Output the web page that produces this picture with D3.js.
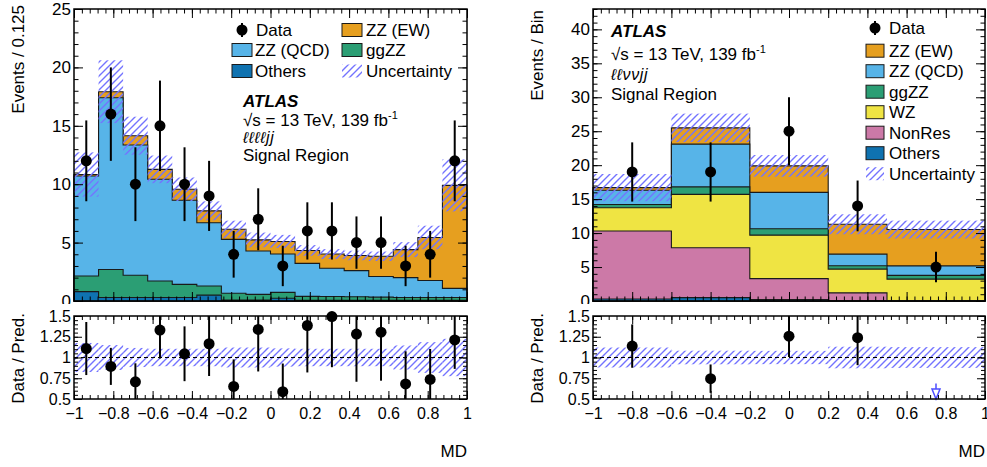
<!DOCTYPE html>
<html>
<head>
<meta charset="utf-8">
<script src="https://cdn.jsdelivr.net/npm/d3@7"></script>
<style>
  body { margin: 0; background: #fff; }
  svg { display: block; }
  text { font-family: "Liberation Sans", Arial, Helvetica, sans-serif; fill: #000; }
</style>
</head>
<body>
<svg id="chart" width="987" height="467"></svg>
<script>
// ---- ℓℓℓℓjj signal region: 16 bins in MD (width 0.125) ----
const edges4l = [-1, -0.875, -0.75, -0.625, -0.5, -0.375, -0.25, -0.125, 0,
                 0.125, 0.25, 0.375, 0.5, 0.625, 0.75, 0.875, 1];
const data4l    = [12, 16, 10, 15, 10, 9, 4, 7, 3, 6, 6, 5, 5, 3, 4, 12];
const dataErr4l = [3.46, 4.0, 3.16, 3.87, 3.16, 3.0, 2.0, 2.65, 1.73, 2.45, 2.45, 2.24, 2.24, 1.73, 2.0, 3.46];
const others4l  = [0.80, 0.30, 0.30, 0.30, 0.30, 0.50, 0.08, 0.08, 0.23, 0.05, 0.05, 0.05, 0.05, 0.05, 0.05, 0.05];
const ggzz4l    = [1.34, 2.40, 1.90, 1.41, 1.12, 0.78, 0.58, 0.49, 0.51, 0.35, 0.33, 0.31, 0.28, 0.25, 0.25, 0.25];
const zzQCD4l   = [8.56, 14.70, 11.16, 8.71, 7.20, 5.42, 4.62, 3.71, 3.28, 2.82, 2.42, 2.24, 1.77, 1.70, 1.45, 0.78];
const zzEW4l    = [0.13, 0.52, 0.79, 0.85, 0.95, 1.02, 0.86, 0.95, 1.08, 1.11, 1.22, 1.30, 1.73, 2.40, 3.69, 8.82];
const relUnc4l  = [0.175, 0.15, 0.115, 0.105, 0.105, 0.105, 0.12, 0.12, 0.11, 0.105, 0.105, 0.105, 0.105, 0.145, 0.185, 0.225];

// ---- ℓℓννjj signal region: 5 variable-width bins in MD ----
const edges2l2v = [-1, -0.6, -0.2, 0.2, 0.5, 1];
const dataX2l2v   = [-0.8, -0.4, 0, 0.35, 0.75];
const data2l2v    = [19, 19, 25, 14, 5];
const dataErr2l2v = [4.36, 4.36, 5.0, 3.74, 2.24];
const others2l2v  = [0.30, 0.50, 0.20, 0.05, 0.02];
const nonRes2l2v  = [10.00, 7.35, 3.10, 1.15, 0.03];
const wz2l2v      = [3.44, 7.85, 6.40, 3.50, 3.17];
const ggzz2l2v    = [0.46, 1.10, 0.95, 0.50, 0.55];
const zzQCD2l2v   = [2.10, 6.30, 5.35, 1.70, 1.40];
const zzEW2l2v    = [0.40, 2.40, 3.90, 4.40, 5.35];
const relUnc2l2v  = [0.12, 0.082, 0.08, 0.13, 0.125];

// ---- axis ticks ----
const xTicks = [-1, -0.8, -0.6, -0.4, -0.2, 0, 0.2, 0.4, 0.6, 0.8, 1];
const yTicks4l = [0, 5, 10, 15, 20, 25];
const yTicks2l2v = [0, 5, 10, 15, 20, 25, 30, 35, 40];
const ratioTicks = [0.5, 0.75, 1, 1.25, 1.5];

const colors = {
  others: "#0f72b0",
  nonRes: "#cc79a7",
  wz: "#efe443",
  ggzz: "#2b9e74",
  zzQCD: "#57b4e8",
  zzEW: "#e69f1f",
  hatch: "#7373ff"
};

const svg = d3.select("#chart");
const defs = svg.append("defs");
defs.append("pattern")
  .attr("id", "hatch")
  .attr("patternUnits", "userSpaceOnUse")
  .attr("width", 7).attr("height", 7)
  .append("path")
  .attr("d", "M-1,1 l2,-2 M0,7 l7,-7 M6,8 l2,-2")
  .attr("stroke", colors.hatch)
  .attr("stroke-width", 1.4)
  .attr("fill", "none");
// the upper pad ends just below its zero label
defs.append("clipPath").attr("id", "upperPad")
  .append("rect").attr("x", -2000).attr("y", -100).attr("width", 4000).attr("height", 404);

const fmtX = d => d === 0 ? "0" : String(d).replace("-", "\u2212");

function drawPanel(p) {
  const x = d3.scaleLinear([-1, 1], [p.x0, p.x1]);
  const y = d3.scaleLinear([0, p.yMax], [p.mainBottom, p.mainTop]);
  const r = d3.scaleLinear([0.5, 1.5], [p.ratioBottom, p.ratioTop]);
  const nb = p.edges.length - 1;
  const g = svg.append("g");

  // stacked backgrounds
  const keys = p.layers.map(l => l.key);
  const rows = d3.range(nb).map(i => {
    const o = {};
    p.layers.forEach(l => { o[l.key] = l.values[i]; });
    return o;
  });
  const stacked = d3.stack().keys(keys)(rows);
  const total = d3.range(nb).map(i => stacked[stacked.length - 1][i][1]);

  const area = d3.area()
    .x(d => x(d.x)).y0(y(0)).y1(d => y(d.top))
    .curve(d3.curveStepAfter);

  for (let k = stacked.length - 1; k >= 0; k--) {
    const pts = d3.range(nb).map(i => ({ x: p.edges[i], top: stacked[k][i][1] }));
    pts.push({ x: p.edges[nb], top: stacked[k][nb - 1][1] });
    g.append("path")
      .attr("d", area(pts))
      .attr("fill", p.layers[k].color)
      .attr("stroke", "#1a1a1a")
      .attr("stroke-width", 1.1);
  }

  // uncertainty band on the total prediction
  g.append("g").selectAll("rect").data(d3.range(nb)).join("rect")
    .attr("x", i => x(p.edges[i]))
    .attr("width", i => x(p.edges[i + 1]) - x(p.edges[i]))
    .attr("y", i => y(total[i] * (1 + p.relUnc[i])))
    .attr("height", i => y(total[i] * (1 - p.relUnc[i])) - y(total[i] * (1 + p.relUnc[i])))
    .attr("fill", "url(#hatch)");

  // data points
  const dg = g.append("g");
  p.data.forEach((v, i) => {
    const cx = x(p.dataX[i]);
    dg.append("line").attr("x1", cx).attr("x2", cx)
      .attr("y1", y(v - p.dataErr[i])).attr("y2", y(v + p.dataErr[i]))
      .attr("stroke", "#000").attr("stroke-width", 2);
    dg.append("circle").attr("cx", cx).attr("cy", y(v)).attr("r", 5.5).attr("fill", "#000");
  });

  // ratio panel: band, reference line, points
  g.append("g").selectAll("rect").data(d3.range(nb)).join("rect")
    .attr("x", i => x(p.edges[i]))
    .attr("width", i => x(p.edges[i + 1]) - x(p.edges[i]))
    .attr("y", i => r(Math.min(1.5, 1 + p.relUnc[i])))
    .attr("height", i => r(Math.max(0.5, 1 - p.relUnc[i])) - r(Math.min(1.5, 1 + p.relUnc[i])))
    .attr("fill", "url(#hatch)");
  g.append("line")
    .attr("x1", p.x0).attr("x2", p.x1).attr("y1", r(1)).attr("y2", r(1))
    .attr("stroke", "#000").attr("stroke-width", 1.2).attr("stroke-dasharray", "4,3");

  const rg = g.append("g");
  p.data.forEach((v, i) => {
    const cx = x(p.dataX[i]);
    const ratio = v / total[i];
    const err = p.dataErr[i] / total[i];
    if (ratio < 0.5) {
      // out of range below: open arrow at the lower edge
      const hi = ratio + err;
      rg.append("line").attr("x1", cx).attr("x2", cx)
        .attr("y1", r(hi)).attr("y2", r(0.5) - 10)
        .attr("stroke", "#4d4dff").attr("stroke-width", 1.5);
      rg.append("path")
        .attr("d", `M${cx - 4},${r(0.5) - 10} L${cx + 4},${r(0.5) - 10} L${cx},${r(0.5)} Z`)
        .attr("fill", "#fff").attr("stroke", "#4d4dff").attr("stroke-width", 1.5);
      return;
    }
    rg.append("line").attr("x1", cx).attr("x2", cx)
      .attr("y1", r(Math.max(0.5, ratio - err))).attr("y2", r(Math.min(1.5, ratio + err)))
      .attr("stroke", "#000").attr("stroke-width", 2);
    rg.append("circle").attr("cx", cx).attr("cy", r(ratio)).attr("r", 5.5).attr("fill", "#000");
  });

  // frames and inward ticks
  const noDomain = s => s.select(".domain").remove();
  const minorX = d3.range(-1, 1.0001, 0.04);
  const minorY = d3.range(0, p.yMax + 0.001, 1);
  const minorR = d3.range(0.5, 1.5001, 0.05);

  function ticks(axis, tx, ty, values, size, labels, fontSize, pad) {
    const a = axis.tickValues(values).tickSize(-size).tickPadding(pad || 3);
    if (!labels) a.tickFormat("");
    else a.tickFormat(labels);
    const ag = g.append("g").attr("transform", `translate(${tx},${ty})`).call(a).call(noDomain);
    ag.attr("font-family", null).attr("font-size", fontSize || 17);
    ag.selectAll("line").attr("stroke", "#000").attr("stroke-width", 1);
    return ag;
  }

  // main panel
  ticks(d3.axisLeft(y), p.x0, 0, p.yTicks, 9, d => d, 17, 3).attr("clip-path", "url(#upperPad)");
  ticks(d3.axisLeft(y), p.x0, 0, minorY, 4.5);
  ticks(d3.axisRight(y), p.x1, 0, p.yTicks, 9);
  ticks(d3.axisRight(y), p.x1, 0, minorY, 4.5);
  ticks(d3.axisTop(x), 0, p.mainTop, xTicks, 9);
  ticks(d3.axisTop(x), 0, p.mainTop, minorX, 4.5);
  ticks(d3.axisBottom(x), 0, p.mainBottom, xTicks, 9);
  ticks(d3.axisBottom(x), 0, p.mainBottom, minorX, 4.5);
  g.append("rect").attr("x", p.x0).attr("y", p.mainTop)
    .attr("width", p.x1 - p.x0).attr("height", p.mainBottom - p.mainTop)
    .attr("fill", "none").attr("stroke", "#000").attr("stroke-width", 1.5);

  // ratio panel
  ticks(d3.axisLeft(r), p.x0, 0, ratioTicks, 8, d => String(d), 16, 3);
  ticks(d3.axisLeft(r), p.x0, 0, minorR, 4);
  ticks(d3.axisRight(r), p.x1, 0, ratioTicks, 8);
  ticks(d3.axisRight(r), p.x1, 0, minorR, 4);
  ticks(d3.axisTop(x), 0, p.ratioTop, xTicks, 8);
  ticks(d3.axisTop(x), 0, p.ratioTop, minorX, 4);
  ticks(d3.axisBottom(x), 0, p.ratioBottom, xTicks, 8, fmtX, 16, 9);
  ticks(d3.axisBottom(x), 0, p.ratioBottom, minorX, 4);
  g.append("rect").attr("x", p.x0).attr("y", p.ratioTop)
    .attr("width", p.x1 - p.x0).attr("height", p.ratioBottom - p.ratioTop)
    .attr("fill", "none").attr("stroke", "#000").attr("stroke-width", 1.5);

  // axis titles
  g.append("text").attr("transform", `translate(${p.titleX},${p.yTitleTop}) rotate(-90)`)
    .attr("text-anchor", "end").attr("font-size", 17).text(p.yTitle);
  g.append("text").attr("transform", `translate(${p.titleX},${p.ratioTop - 3}) rotate(-90)`)
    .attr("text-anchor", "end").attr("font-size", 17).text("Data / Pred.");
  g.append("text").attr("x", p.x1).attr("y", 457)
    .attr("text-anchor", "end").attr("font-size", 17).text("MD");
}

function legendDataMarker(cx, cy) {
  svg.append("line").attr("x1", cx).attr("x2", cx).attr("y1", cy - 7).attr("y2", cy + 7)
    .attr("stroke", "#000").attr("stroke-width", 2);
  svg.append("circle").attr("cx", cx).attr("cy", cy).attr("r", 5.5).attr("fill", "#000");
}
function legendBox(x, cy, w, fill, label, tx) {
  svg.append("rect").attr("x", x).attr("y", cy - 6.5).attr("width", w).attr("height", 13)
    .attr("fill", fill).attr("stroke", fill === "url(#hatch)" ? "none" : "#1a1a1a").attr("stroke-width", 1);
  svg.append("text").attr("x", tx).attr("y", cy + 6).attr("font-size", 17).text(label);
}
function label(x, y, lines) {
  lines.forEach((ln, i) => {
    const t = svg.append("text").attr("x", x).attr("y", y[i]).attr("font-size", 17);
    if (ln === "ATLAS") t.attr("font-weight", "bold").attr("font-style", "italic").text(ln);
    else if (ln === "energy") {
      t.append("tspan").text("\u221As = 13 TeV, 139 fb");
      t.append("tspan").attr("font-size", 11).attr("dy", -7).text("-1");
    } else if (ln.startsWith("\u2113")) {
      t.attr("font-family", "'DejaVu Serif', 'Liberation Serif', serif")
        .attr("font-style", "italic").attr("font-size", 16)
        .attr("letter-spacing", 0.6).text(ln);
    }
    else t.text(ln);
  });
}

// left: ℓℓℓℓjj
drawPanel({
  x0: 74, x1: 467, mainTop: 9, mainBottom: 301, ratioTop: 316, ratioBottom: 399,
  yMax: 25, yTicks: yTicks4l, edges: edges4l,
  dataX: d3.range(edges4l.length - 1).map(i => (edges4l[i] + edges4l[i + 1]) / 2),
  data: data4l, dataErr: dataErr4l, relUnc: relUnc4l,
  layers: [
    { key: "others", values: others4l, color: colors.others },
    { key: "ggzz", values: ggzz4l, color: colors.ggzz },
    { key: "zzQCD", values: zzQCD4l, color: colors.zzQCD },
    { key: "zzEW", values: zzEW4l, color: colors.zzEW }
  ],
  yTitle: "Events / 0.125", titleX: 24, yTitleTop: 5
});

// right: ℓℓννjj
drawPanel({
  x0: 593, x1: 985, mainTop: 9, mainBottom: 301, ratioTop: 316, ratioBottom: 399,
  yMax: 43, yTicks: yTicks2l2v, edges: edges2l2v,
  dataX: dataX2l2v, data: data2l2v, dataErr: dataErr2l2v, relUnc: relUnc2l2v,
  layers: [
    { key: "others", values: others2l2v, color: colors.others },
    { key: "nonRes", values: nonRes2l2v, color: colors.nonRes },
    { key: "wz", values: wz2l2v, color: colors.wz },
    { key: "ggzz", values: ggzz2l2v, color: colors.ggzz },
    { key: "zzQCD", values: zzQCD2l2v, color: colors.zzQCD },
    { key: "zzEW", values: zzEW2l2v, color: colors.zzEW }
  ],
  yTitle: "Events / Bin", titleX: 543, yTitleTop: 10
});

// left legend and labels
legendDataMarker(242, 30);
svg.append("text").attr("x", 256).attr("y", 36).attr("font-size", 17).text("Data");
legendBox(342, 30, 20, colors.zzEW, "ZZ (EW)", 366);
legendBox(232, 50, 20, colors.zzQCD, "ZZ (QCD)", 255);
legendBox(342, 50, 20, colors.ggzz, "ggZZ", 366);
legendBox(232, 71, 20, colors.others, "Others", 255);
legendBox(342, 71, 20, "url(#hatch)", "Uncertainty", 366);
label(243, [107, 126, 143, 161], ["ATLAS", "energy", "\u2113\u2113\u2113\u2113jj", "Signal Region"]);

// right legend and labels
legendDataMarker(875, 28);
svg.append("text").attr("x", 889).attr("y", 34).attr("font-size", 17).text("Data");
const rightLegend = [
  [colors.zzEW, "ZZ (EW)"], [colors.zzQCD, "ZZ (QCD)"], [colors.ggzz, "ggZZ"],
  [colors.wz, "WZ"], [colors.nonRes, "NonRes"], [colors.others, "Others"],
  ["url(#hatch)", "Uncertainty"]
];
rightLegend.forEach(([c, t], i) => legendBox(866, 50.7 + i * 20.5, 18, c, t, 889));
label(611, [37, 60, 80, 100], ["ATLAS", "energy", "\u2113\u2113\u03BD\u03BDjj", "Signal Region"]);
</script>
</body>
</html>
